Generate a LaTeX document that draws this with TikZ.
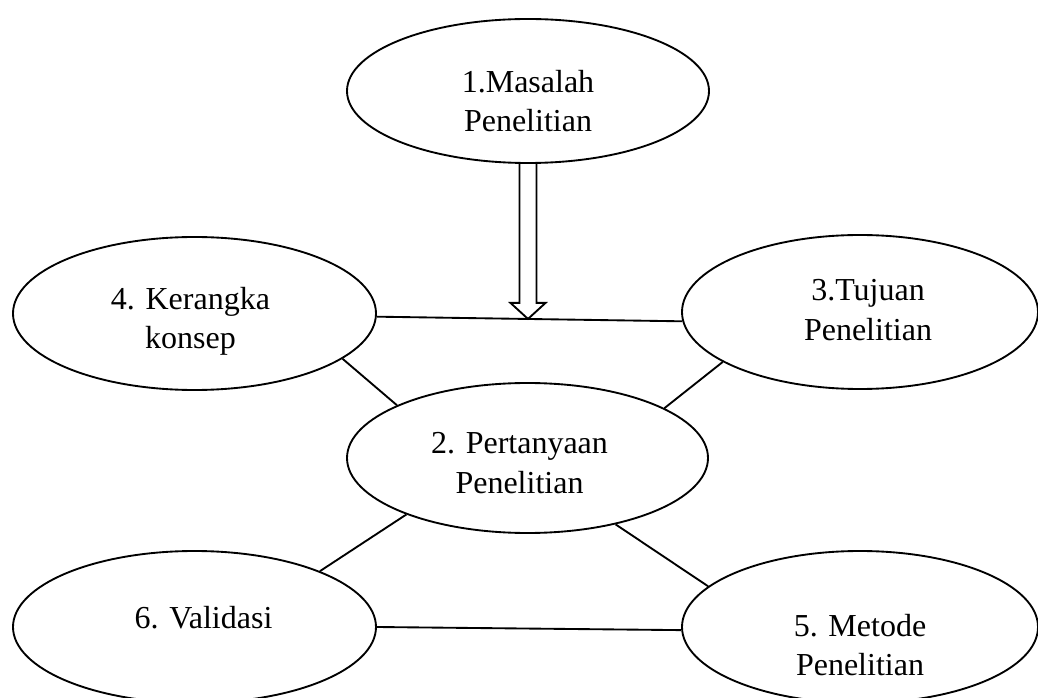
\documentclass[tikz,border=0pt]{standalone}
\usepackage{fontspec}
\setmainfont{Liberation Serif}
\usetikzlibrary{shapes.geometric,calc}
\begin{document}
\begin{tikzpicture}[x=0.75pt,y=-0.75pt,line width=1.4pt,
  oval/.style={draw,ellipse,inner sep=0pt},
  lbl/.style={align=center,inner sep=0pt,font=\fontsize{24pt}{29.5pt}\selectfont}]
\useasboundingbox (0,0) rectangle (1038,698);
\node[oval,minimum width=271.5pt,minimum height=108pt](m) at (528,91){};
\node[oval,minimum width=272.25pt,minimum height=114.75pt](k) at (194.5,313.5){};
\node[oval,minimum width=267pt,minimum height=115.5pt](t) at (860,312){};
\node[oval,minimum width=270.75pt,minimum height=112.5pt](p) at (527.5,458){};
\node[oval,minimum width=272.25pt,minimum height=114pt](v) at (194.5,627){};
\node[oval,minimum width=267pt,minimum height=114pt](me) at (860,627){};
\node[lbl](mt) at ($(m)+(0,10)$){1.Masalah\\Penelitian};
\node[lbl](kt) at ($(k)+(-4,8)$){4. Kerangka\\konsep};
\node[lbl](tt) at ($(t)+(8,-2)$){3.Tujuan\\Penelitian};
\node[lbl](pt) at ($(p)+(-8,5)$){2. Pertanyaan\\Penelitian};
\node[lbl](vt) at ($(v)+(9,-9)$){6. Validasi};
\node[lbl](met) at ($(me)+(0,18)$){5. Metode\\Penelitian};
\draw(k.-1)--(t.183);
\draw(k.-17.5)--(p.158.7);
\draw(t.200.3)--(p.20.3);
\draw(p.205.3)--(v.24.4);
\draw(p.-37.3)--(me.165.9);
\draw(v.-0.6)--(me.181.9);
\coordinate(foot) at ($(k.-1)!(m.south)!(t.183)$);
\coordinate(tip) at (m.south|-foot);
\draw($(m.south)+(-8.5,0)$)--($(tip)+(-8.5,-16)$)--++(-9,0)--(tip)--($(tip)+(17.5,-16)$)--++(-9,0)--($(m.south)+(8.5,0)$);
\end{tikzpicture}
\end{document}
